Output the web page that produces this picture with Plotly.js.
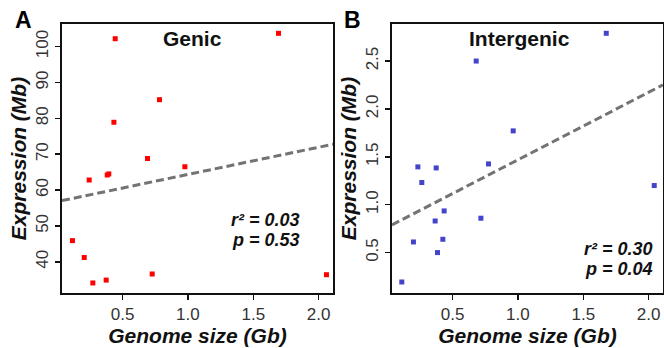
<!DOCTYPE html>
<html>
<head>
<meta charset="utf-8">
<script src="https://cdn.plot.ly/plotly-3.0.1.min.js"></script>
<style>html,body{margin:0;padding:0;background:#fff;}#chart{width:664px;height:348px;}</style>
</head>
<body>
<div id="chart"></div>
<script>
// Genome size (Gb) and expression (Mb)
const genicSize = [0.117, 0.207, 0.245, 0.273, 0.375, 0.383, 0.395, 0.434, 0.444, 0.691, 0.727, 0.783, 0.977, 1.693, 2.06];
const genicExpr = [45.9, 41.2, 62.8, 34.1, 34.9, 64.2, 64.5, 78.9, 102.2, 68.8, 36.6, 85.2, 66.5, 103.7, 36.4];
const interSize = [0.112, 0.201, 0.235, 0.265, 0.367, 0.375, 0.385, 0.426, 0.436, 0.681, 0.717, 0.775, 0.964, 1.676, 2.043];
const interExpr = [0.193, 0.611, 1.395, 1.232, 0.830, 1.384, 0.50, 0.639, 0.935, 2.50, 0.859, 1.426, 1.771, 2.79, 1.200];
const panelTitles = ["Genic", "Intergenic"];
const panelLetters = ["A", "B"];
const stats = [["0.03", "0.53"], ["0.30", "0.04"]];
const xTicks = [0.5, 1.0, 1.5, 2.0];
const genicTicks = [40, 50, 60, 70, 80, 90, 100];
const interTicks = [0.5, 1.0, 1.5, 2.0, 2.5];

function ols(x, y) {
  const n = x.length;
  const mx = x.reduce((a, b) => a + b, 0) / n;
  const my = y.reduce((a, b) => a + b, 0) / n;
  let sxy = 0, sxx = 0;
  for (let i = 0; i < n; i++) { sxy += (x[i] - mx) * (y[i] - my); sxx += (x[i] - mx) ** 2; }
  const b = sxy / sxx;
  return { a: my - b * mx, b: b };
}

const xRange = [0.037, 2.11];
const fitA = ols(genicSize, genicExpr);
const fitB = ols(interSize, interExpr);
const lineStyle = { color: '#737373', width: 3, dash: '8px,4px' };

const traces = [
  { x: xRange, y: xRange.map(v => fitA.a + fitA.b * v), mode: 'lines', line: lineStyle, xaxis: 'x', yaxis: 'y', hoverinfo: 'skip' },
  { x: genicSize, y: genicExpr, mode: 'markers', marker: { symbol: 'square', size: 5, color: '#ff0000' }, xaxis: 'x', yaxis: 'y' },
  { x: xRange, y: xRange.map(v => fitB.a + fitB.b * v), mode: 'lines', line: lineStyle, xaxis: 'x2', yaxis: 'y2', hoverinfo: 'skip' },
  { x: interSize, y: interExpr, mode: 'markers', marker: { symbol: 'square', size: 5, color: '#4343cc' }, xaxis: 'x2', yaxis: 'y2' }
];

const FONT = 'Liberation Sans, Arial, sans-serif';
const tickFont = { family: FONT, size: 17, color: '#333' };
const titleFont = { family: FONT, size: 21, color: '#111', weight: 'bold', style: 'italic' };

function xAxis(domain, anchor) {
  return {
    domain: domain, anchor: anchor, range: xRange, tickvals: xTicks, tickformat: '.1f',
    showline: true, mirror: true, linecolor: '#111', linewidth: 2, ticks: 'outside', ticklen: 5, tickwidth: 1.5, tickcolor: '#111',
    showgrid: false, zeroline: false, tickfont: tickFont,
    title: { text: '<b><i>Genome size (Gb)</i></b>', font: titleFont, standoff: 2 }
  };
}
function yAxis(domain, anchor, range, ticks, fmt) {
  return {
    domain: domain, anchor: anchor, range: range, tickvals: ticks, tickformat: fmt, tickangle: -90,
    showline: true, mirror: true, linecolor: '#111', linewidth: 2, ticks: 'outside', ticklen: 5, tickwidth: 1.5, tickcolor: '#111',
    showgrid: false, zeroline: false, tickfont: tickFont,
    title: { text: '<b><i>Expression (Mb)</i></b>', font: titleFont, standoff: 1 }
  };
}

const W = 664, H = 348;
const px = v => v / W, py = v => 1 - v / H;

const annotations = [];
const letterPos = [[23, 20], [353, 20]];
const titlePos = [[192, 38], [519, 39]];
const statPos = [[302, 220], [655, 249]];
for (let i = 0; i < 2; i++) {
  annotations.push({ xref: 'paper', yref: 'paper', x: px(letterPos[i][0]), y: py(letterPos[i][1]), text: '<b>' + panelLetters[i] + '</b>', showarrow: false, xanchor: 'center', yanchor: 'middle', font: { family: FONT, size: 23, color: '#000' } });
  annotations.push({ xref: 'paper', yref: 'paper', x: px(titlePos[i][0]), y: py(titlePos[i][1]), text: '<b>' + panelTitles[i] + '</b>', showarrow: false, xanchor: 'center', yanchor: 'middle', font: { family: FONT, size: 21, color: '#111' } });
  annotations.push({ xref: 'paper', yref: 'paper', x: px(statPos[i][0]), y: py(statPos[i][1]), text: '<b><i>r² = ' + stats[i][0] + '</i></b>', showarrow: false, xanchor: 'right', yanchor: 'middle', font: { family: FONT, size: 18, color: '#111' } });
  annotations.push({ xref: 'paper', yref: 'paper', x: px(statPos[i][0]), y: py(statPos[i][1] + 20), text: '<b><i>p = ' + stats[i][1] + '</i></b>', showarrow: false, xanchor: 'right', yanchor: 'middle', font: { family: FONT, size: 18, color: '#111' } });
}

const layout = {
  width: W, height: H, margin: { l: 0, r: 0, t: 0, b: 0 }, showlegend: false,
  paper_bgcolor: '#fff', plot_bgcolor: '#fff',
  xaxis: xAxis([px(62), px(333)], 'y'),
  yaxis: yAxis([py(293), py(24)], 'x', [31.3, 106.3], genicTicks, 'd'),
  xaxis2: xAxis([px(392), px(663)], 'y2'),
  yaxis2: yAxis([py(293), py(24)], 'x2', [0.078, 2.887], interTicks, '.1f'),
  annotations: annotations
};

Plotly.newPlot('chart', traces, layout, { staticPlot: true });
</script>
</body>
</html>
